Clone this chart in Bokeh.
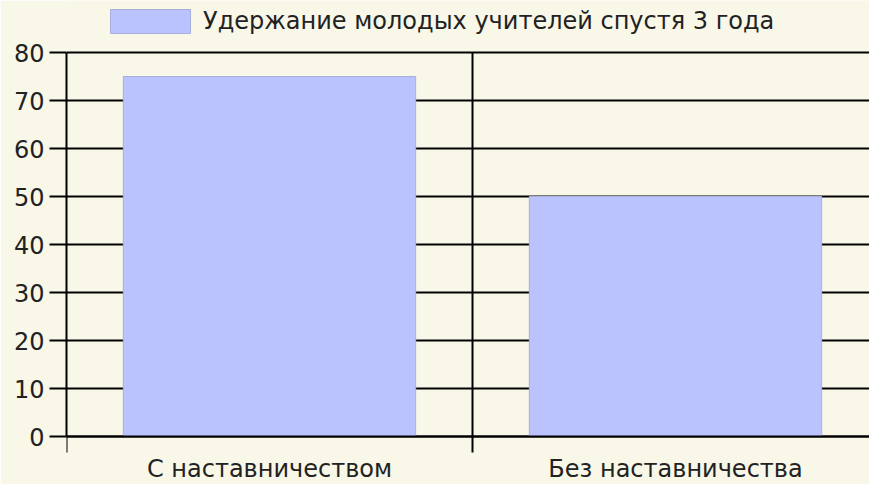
from bokeh.plotting import figure
from bokeh.models import (Range1d, FixedTicker, Legend, LegendItem, ColumnDataSource)
from bokeh.embed import file_html
from bokeh.resources import INLINE

categories = ["С наставничеством", "Без наставничества"]
values = [75, 50]
series_name = "Удержание молодых учителей спустя 3 года"
y_ticks = [0, 10, 20, 30, 40, 50, 60, 70, 80]

FONT = "DejaVu Sans"
TXT = "#222222"
BG = "#f8f7e8"
BAR = "#bbc3ff"
FS = "24px"

centers = [i + 0.5 for i in range(len(categories))]
bounds = [i for i in range(len(categories) + 1)]
y_min, y_max = y_ticks[0], y_ticks[-1]
seps = bounds[1:-1]

src = ColumnDataSource(dict(x=centers, top=values, cat=categories))

# the frame fills the whole canvas, so the legend and the category names (drawn inside it)
# stay visible; the value axis is bounded to 0..80 and the category axis sits at 0
PX = 4.8  # pixels per unit
p = figure(width=869, height=484, output_backend="svg", toolbar_location=None,
           x_range=Range1d(0, 803 / 406), y_range=Range1d(-48 / PX, 436 / PX),
           min_border_left=66, min_border_right=0, min_border_top=0, min_border_bottom=0)
p.background_fill_color = BG
p.border_fill_color = BG
p.outline_line_color = None

# category separators (from the value-axis bottom to its top)
p.segment(x0=seps, y0=[y_min] * len(seps), x1=seps, y1=[y_max] * len(seps),
          line_color="black", line_width=2)

r = p.vbar(x="x", top="top", bottom=0, width=0.72, source=src,
           fill_color=BAR, line_color="#a9afdc", line_width=1)

# x axis: tick marks at category boundaries, names centred under each category
xa = p.xaxis[0]
xa.fixed_location = y_min
xa.ticker = FixedTicker(ticks=centers, minor_ticks=bounds)
xa.major_label_overrides = {c: n for c, n in zip(centers, categories)}
xa.major_label_text_font = FONT
xa.major_label_text_font_size = FS
xa.major_label_text_color = TXT
xa.major_label_standoff = 2
xa.axis_line_color = "black"
xa.axis_line_width = 2
xa.major_tick_out = 0
xa.major_tick_in = 0
xa.minor_tick_out = 16
xa.minor_tick_in = 0
xa.minor_tick_line_color = "black"
xa.minor_tick_line_width = 2

# y axis
ya = p.yaxis[0]
ya.ticker = FixedTicker(ticks=y_ticks)
ya.bounds = (y_min, y_max)
ya.axis_line_color = "black"
ya.axis_line_width = 2
ya.major_tick_out = 17
ya.major_tick_in = 0
ya.major_tick_line_color = "black"
ya.major_tick_line_width = 2
ya.minor_tick_line_color = None
ya.major_label_standoff = 5
ya.major_label_text_font = FONT
ya.major_label_text_font_size = FS
ya.major_label_text_color = TXT

p.xgrid.grid_line_color = None
p.ygrid.grid_line_color = "black"
p.ygrid.grid_line_width = 2

legend = Legend(items=[LegendItem(label=series_name, renderers=[r])],
                location=(34, 448), orientation="horizontal",
                glyph_width=100, glyph_height=30, padding=0, margin=0, spacing=0,
                label_standoff=3, background_fill_alpha=0, border_line_color=None,
                label_text_font=FONT, label_text_font_size=FS, label_text_color=TXT)
p.add_layout(legend, "center")

open("out.html", "w").write(file_html(p, INLINE))
